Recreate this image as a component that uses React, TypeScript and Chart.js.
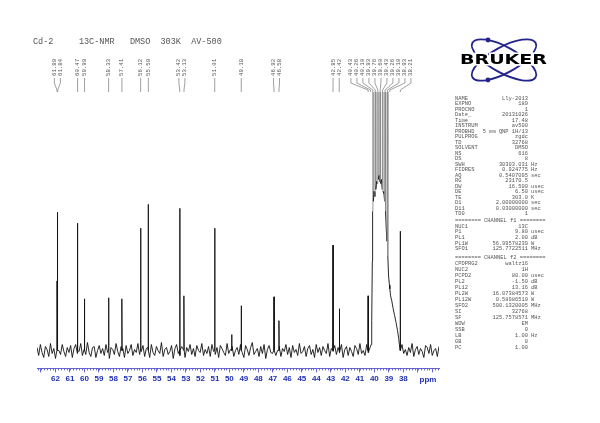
import React, { useEffect, useRef } from 'react';
import { Chart, registerables } from 'chart.js';

Chart.register(...registerables);

// ---------- data ----------
const titleText = 'Cd-2     13C-NMR   DMSO  303K  AV-500';
const axisMin = 35.54;
const axisMax = 63.27;
const tickLabelMin = 38;
const tickLabelMax = 62;

// baseline noise, sampled evenly from axisMax to axisMin
const noise = [
  3, -5, 6, -2, -7, 4, 1, -6, 7, -3, 2, -8, 5, 0, -4, 6, -1, -6, 3, -2,
  5, -7, 2, 6, -3, -1, 7, -5, 1, -4, 8, -2, -6, 3, 4, -7, 0, 5, -3, 2,
  -5, 6, -2, -8, 3, 1, -4, 7, -1, -6, 4, 2, -7, 5, -3, 0, 6, -5, 1, -2,
  7, -4, -1, 5, -6, 2, 3, -7, 6, -2, -5, 4, 0, -3, 8, -6, 1, 3, -4, -1,
  5, -8, 2, 6, -3, -5, 4, 1, -7, 3, -1, 6, -4, 2, -6, 5, 0, -2, 7, -5,
  1, -3, 4, -6, 6, -1, -4, 3, -7, 5, 2, -2, -5, 7, -3, 1, 4, -6, 0, 3,
  -4, 6, -2, -7, 5, 1, -5, 3, 8, -4, -1, 2, -6, 4, -3, 6, -8, 1, 5, -2,
  -3, 7, -5, 0, 4, -6, 2, -1, 6, -4, 3, -7, 5, -2, 1, -5, 7, -3, -1, 4,
  -6, 2, 5, -4, 1, -7, 6, -2, 3, -5, 4, 0, -3, 7, -6, 2, -1, 5, -4, 3,
  -2, 6, -7, 1, 4, -5, 3, -1, -6, 5, 2, -4, 7, -3, 0, -5, 6, -2, 3, -7,
  4, -1, -5, 6, -3, 2, -6, 5, 1, -4, 7, -2, -5, 3, 0, -7, 4, 6, -3, 1,
  -5, 3, -2, 7, -6, 1, 4, -4, 2, -1, -7, 5, 3, -3, 6, -5, 0, 2, -6, 4,
];
const humpFrom = 40.24;
const humpTo = 38.30;

const peakPpm = [61.89, 61.84, 60.47, 59.99, 58.33, 57.41, 56.12, 55.59, 53.42, 53.13, 51.01, 49.84, 49.18, 46.92, 46.58, 42.85, 42.42, 40.43, 38.21];
const peakHeight = [70, 139, 128, 52, 53, 52, 123, 147, 143, 55, 123, 16, 45, 54, 30, 106, 42, 55, 120];

const dmsoPpm = [40.10, 39.93, 39.76, 39.60, 39.43, 39.26, 39.10];
const dmsoHeight = [700, 700, 700, 700, 700, 700, 700];

const humpPpm = [40.22, 40.18, 40.14, 40.12, 40.07, 40.02, 39.96, 39.90, 39.84, 39.79, 39.73, 39.67, 39.63, 39.57, 39.51, 39.46, 39.40, 39.34, 39.29, 39.23, 39.17, 39.13, 39.07, 39.02, 38.96, 38.93, 38.88, 38.80, 38.70, 38.60, 38.50, 38.40, 38.32];
const humpHeight = [6, 30, 90, 140, 150, 160, 155, 162, 170, 168, 172, 176, 170, 168, 172, 162, 160, 158, 150, 140, 120, 110, 95, 75, 66, 62, 55, 50, 42, 35, 28, 20, 12];

const labelPpm = [61.89, 61.84, 60.47, 59.99, 58.33, 57.41, 56.12, 55.59, 53.42, 53.13, 51.01, 49.18, 46.92, 46.58, 42.85, 42.42, 40.43, 40.26, 40.10, 39.93, 39.76, 39.60, 39.43, 39.26, 39.10, 38.93, 38.21];

const paramNames1 = ['NAME', 'EXPNO', 'PROCNO', 'Date_', 'Time', 'INSTRUM', 'PROBHD', 'PULPROG', 'TD', 'SOLVENT', 'NS', 'DS', 'SWH', 'FIDRES', 'AQ', 'RG', 'DW', 'DE', 'TE', 'D1', 'D11', 'TD0'];
const paramValues1 = ['Lly-2013', '189', '1', '20131026', '17.48', 'av500', '5 mm QNP 1H/13', 'zgdc', '32768', 'DMSO', '616', '8', '30303.031', '0.924775', '0.5407095', '23170.5', '16.500', '6.50', '303.0', '2.00000000', '0.03000000', '1'];
const paramUnits1 = ['', '', '', '', '', '', '', '', '', '', '', '', 'Hz', 'Hz', 'sec', '', 'usec', 'usec', 'K', 'sec', 'sec', ''];

const channel1Title = '======== CHANNEL f1 ========';
const paramNames2 = ['NUC1', 'P1', 'PL1', 'PL1W', 'SFO1'];
const paramValues2 = ['13C', '9.80', '2.00', '56.99578239', '125.7722511'];
const paramUnits2 = ['', 'usec', 'dB', 'W', 'MHz'];

const channel2Title = '======== CHANNEL f2 ========';
const paramNames3 = ['CPDPRG2', 'NUC2', 'PCPD2', 'PL2', 'PL12', 'PL2W', 'PL12W', 'SFO2', 'SI', 'SF', 'WDW', 'SSB', 'LB', 'GB', 'PC'];
const paramValues3 = ['waltz16', '1H', '80.00', '-1.50', '13.16', '16.07384573', '0.58986510', '500.1320005', '32768', '125.7578571', 'EM', '0', '1.00', '0', '1.00'];
const paramUnits3 = ['', '', 'usec', 'dB', 'dB', 'W', 'W', 'MHz', '', 'MHz', '', '', 'Hz', '', ''];

// ---------- build spectrum ----------
function buildSpectrum() {
  const pts: { x: number; y: number }[] = [];
  const n = noise.length;
  for (let i = 0; i < n; i++) {
    const x = axisMax + ((axisMin - axisMax) * i) / (n - 1);
    if (x < humpFrom && x > humpTo) continue;
    pts.push({ x, y: noise[i] });
  }
  peakPpm.forEach((p, i) => {
    pts.push({ x: p + 0.015, y: 0 }, { x: p, y: peakHeight[i] }, { x: p - 0.015, y: 0 });
  });
  dmsoPpm.forEach((p, i) => pts.push({ x: p, y: dmsoHeight[i] }));
  humpPpm.forEach((p, i) => pts.push({ x: p, y: humpHeight[i] }));
  pts.sort((a, b) => b.x - a.x);
  return pts;
}

const AXIS_BLUE = '#6464d2';
const LABEL_BLUE = '#2030b0';
const TEXT_GRAY = '#555';

const decorPlugin = {
  id: 'decor',
  afterDraw(chart: any) {
    const ctx: CanvasRenderingContext2D = chart.ctx;
    const xs = chart.scales.x;
    const area = chart.chartArea;
    ctx.save();

    // title
    ctx.fillStyle = TEXT_GRAY;
    ctx.font = '8.5px "Liberation Mono"';
    ctx.textBaseline = 'middle';
    ctx.textAlign = 'left';
    ctx.fillText(titleText, 33, 42);

    // minor ticks
    ctx.strokeStyle = AXIS_BLUE;
    ctx.lineWidth = 1;
    ctx.beginPath();
    const start = Math.ceil(axisMin * 5);
    const end = Math.floor(axisMax * 5);
    for (let k = start; k <= end; k++) {
      const px = Math.round(xs.getPixelForValue(k / 5)) + 0.5;
      ctx.moveTo(px, area.bottom);
      ctx.lineTo(px, area.bottom + 2);
    }
    ctx.stroke();

    // ppm label
    ctx.fillStyle = LABEL_BLUE;
    ctx.font = 'bold 8px "Liberation Sans"';
    ctx.textAlign = 'center';
    ctx.fillText('ppm', 428, area.bottom + 11);

    // peak labels
    const s = 6;
    const items = labelPpm
      .map((p) => ({ p, px: xs.getPixelForValue(p) }))
      .sort((a, b) => a.px - b.px);
    const groups: any[] = items.map((it) => ({ members: [it], start: 0 }));
    const place = (g: any) => {
      const mean = g.members.reduce((a: number, m: any) => a + m.px, 0) / g.members.length;
      g.start = mean - ((g.members.length - 1) * s) / 2;
    };
    groups.forEach(place);
    let merged = true;
    while (merged) {
      merged = false;
      for (let i = 0; i < groups.length - 1; i++) {
        const a = groups[i];
        const b = groups[i + 1];
        const aEnd = a.start + (a.members.length - 1) * s;
        if (aEnd + s > b.start) {
          a.members = a.members.concat(b.members);
          groups.splice(i + 1, 1);
          place(a);
          merged = true;
          break;
        }
      }
    }
    ctx.strokeStyle = '#777';
    ctx.lineWidth = 0.7;
    ctx.fillStyle = TEXT_GRAY;
    ctx.font = '5.7px "Liberation Mono"';
    groups.forEach((g) => {
      g.members.forEach((m: any, k: number) => {
        const lx = g.start + k * s;
        ctx.beginPath();
        ctx.moveTo(lx, 78);
        ctx.lineTo(lx, 83);
        ctx.lineTo(m.px, 90);
        ctx.lineTo(m.px, 92);
        ctx.stroke();
        ctx.save();
        ctx.translate(lx, 76);
        ctx.rotate(-Math.PI / 2);
        ctx.textAlign = 'left';
        ctx.textBaseline = 'middle';
        ctx.fillText(m.p.toFixed(2), 0, 0);
        ctx.restore();
      });
    });

    // parameter panel
    ctx.font = '5.4px "Liberation Mono"';
    ctx.fillStyle = TEXT_GRAY;
    ctx.textBaseline = 'middle';
    const drawBlock = (names: string[], values: string[], units: string[], y0: number, dy: number) => {
      names.forEach((nm, i) => {
        const y = y0 + i * dy;
        ctx.textAlign = 'left';
        ctx.fillText(nm, 455, y);
        ctx.textAlign = 'right';
        ctx.fillText(values[i], 528, y);
        if (units[i]) {
          ctx.textAlign = 'left';
          ctx.fillText(units[i], 531, y);
        }
      });
    };
    drawBlock(paramNames1, paramValues1, paramUnits1, 98.5, 5.5);
    ctx.textAlign = 'left';
    ctx.fillText(channel1Title, 455, 220.5);
    drawBlock(paramNames2, paramValues2, paramUnits2, 226.3, 5.6);
    ctx.textAlign = 'left';
    ctx.fillText(channel2Title, 455, 258);
    drawBlock(paramNames3, paramValues3, paramUnits3, 264, 6.0);

    // Bruker logo
    const cx = 504;
    const cy = 60;
    ctx.strokeStyle = '#23238c';
    ctx.lineWidth = 1.8;
    ctx.beginPath();
    ctx.ellipse(cx, cy, 36, 13, 0.5, 0, Math.PI * 2);
    ctx.stroke();
    ctx.beginPath();
    ctx.ellipse(cx, cy, 36, 13, -0.5, 0, Math.PI * 2);
    ctx.stroke();
    ctx.fillStyle = '#23238c';
    ctx.beginPath();
    ctx.arc(488, 40, 2.4, 0, Math.PI * 2);
    ctx.fill();
    ctx.beginPath();
    ctx.arc(488, 80, 2.4, 0, Math.PI * 2);
    ctx.fill();
    ctx.save();
    ctx.font = 'bold 14px "DejaVu Sans"';
    const w = ctx.measureText('BRUKER').width;
    ctx.translate(460, 60.5);
    ctx.scale(87 / w, 1);
    ctx.textAlign = 'left';
    ctx.textBaseline = 'middle';
    ctx.lineWidth = 3;
    ctx.strokeStyle = '#fff';
    ctx.strokeText('BRUKER', 0, 0);
    ctx.fillStyle = '#000';
    ctx.fillText('BRUKER', 0, 0);
    ctx.restore();

    ctx.restore();
  },
};

export default function App() {
  const ref = useRef<HTMLCanvasElement>(null);
  useEffect(() => {
    const data = buildSpectrum();
    const chart = new Chart(ref.current as HTMLCanvasElement, {
      type: 'line',
      data: {
        datasets: [
          {
            data,
            borderColor: '#111',
            borderWidth: 0.9,
            pointRadius: 0,
            tension: 0,
            fill: false,
            segment: {
              borderColor: (c: any) => (c.p0.parsed.y > 200 || c.p1.parsed.y > 200 ? '#8a8a8a' : '#111'),
            },
          } as any,
        ],
      },
      options: {
        animation: false,
        responsive: true,
        maintainAspectRatio: false,
        parsing: false as any,
        normalized: true,
        layout: { padding: { left: 37, right: 161, top: 92, bottom: 37 } },
        plugins: { legend: { display: false }, tooltip: { enabled: false } },
        events: [],
        scales: {
          x: {
            type: 'linear',
            reverse: true,
            min: axisMin,
            max: axisMax,
            grid: { display: true, drawOnChartArea: false, drawTicks: true, tickLength: 4, color: AXIS_BLUE },
            border: { display: true, color: AXIS_BLUE },
            ticks: {
              stepSize: 1,
              includeBounds: false,
              autoSkip: false,
              maxRotation: 0,
              padding: 2,
              color: LABEL_BLUE,
              font: { family: 'Liberation Sans', size: 8, weight: 'bold' },
              callback: (v: any) => (v >= tickLabelMin && v <= tickLabelMax ? String(v) : ''),
            },
          },
          y: { display: false, min: -18, max: 260 },
        },
      },
      plugins: [decorPlugin],
    });
    return () => chart.destroy();
  }, []);
  return (
    <div style={{ position: 'fixed', left: 0, top: 0, width: 600, height: 423, background: '#fff' }}>
      <canvas ref={ref} />
    </div>
  );
}
